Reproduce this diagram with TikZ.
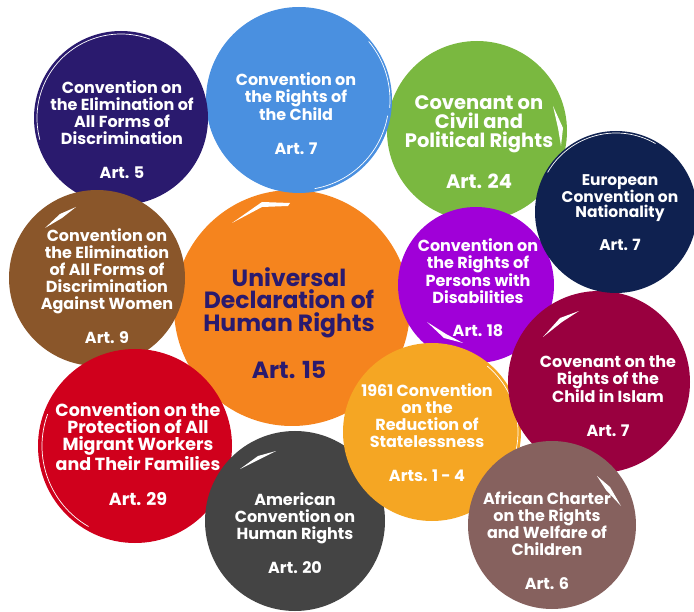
\documentclass[tikz,border=0pt]{standalone}
\usepackage{fontspec}
\setmainfont{Poppins}
\definecolor{cDark}{HTML}{2A1A6E}
\definecolor{cBlue}{HTML}{4A90E0}
\definecolor{cGreen}{HTML}{7AB840}
\definecolor{cNavy}{HTML}{0F2150}
\definecolor{cBrown}{HTML}{8A562A}
\definecolor{cOrange}{HTML}{F5841E}
\definecolor{cPurple}{HTML}{A000D8}
\definecolor{cMaroon}{HTML}{99003F}
\definecolor{cRed}{HTML}{D0001C}
\definecolor{cYellow}{HTML}{F5A623}
\definecolor{cGray}{HTML}{444444}
\definecolor{cMauve}{HTML}{86615E}
\begin{document}
\begin{tikzpicture}[x=1pt,y=-1pt,
  disc/.style={circle, inner sep=0pt, minimum size=#1},
  lbl/.style={align=center, text=white, inner sep=0pt, font=\bfseries\fontsize{16}{17}\selectfont},
  rim/.style={white, line width=0.7pt},
  streak/.style={fill=white}]
\useasboundingbox (0,0) rectangle (694,612);
% discs (drawing order matters)
\node[disc=236pt, fill=cOrange] (orange) at (292,308) {};
\fill[streak] (232,223) -- (262,202) -- (290,203) -- (288,206) -- (262,207) -- cycle;
\node[disc=180pt, fill=cGreen] (green) at (477,131) {};
\fill[streak] (553,106) -- (563,128) -- (561,146) -- (558,128) -- cycle;
\node[disc=156pt, fill=cPurple] (purple) at (476,285) {};
\fill[streak] (427,322) -- (446,334) -- (463,343) -- (444,338) -- cycle;
\node[disc=186pt, fill=cBlue] (blue) at (299,100) {};
\draw[rim] (blue.center) ++(10:90) arc[start angle=10, end angle=80, radius=90];
\draw[rim] (blue.center) ++(-40:91) arc[start angle=-40, end angle=5, radius=91];
\node[disc=174pt, fill=cDark] (dark) at (121,118) {};
\draw[rim] (dark.center) ++(165:84) arc[start angle=165, end angle=290, radius=84];
\node[disc=176pt, fill=cBrown] (brown) at (97,278) {};
\fill[streak] (45,228) -- (60,214) -- (76,207) -- (62,218) -- cycle;
\node[disc=194pt, fill=cRed] (red) at (135,446) {};
\draw[rim] (red.center) ++(120:93) arc[start angle=120, end angle=200, radius=93];
\node[disc=180pt, fill=cGray] (gray) at (295,521) {};
\fill[streak] (240,469) -- (258,456) -- (276,451) -- (258,460) -- cycle;
\node[disc=178pt, fill=cYellow] (yellow) at (432,432) {};
\draw[rim] (yellow.center) ++(-50:86) arc[start angle=-50, end angle=20, radius=86];
\node[disc=182pt, fill=cMaroon] (maroon) at (599,382) {};
\fill[streak] (543,337) -- (560,318) -- (579,311) -- (562,322) -- cycle;
\node[disc=162pt, fill=cNavy] (navy) at (616,212) {};
\draw[rim] (navy.center) ++(-150:79) arc[start angle=-150, end angle=-60, radius=79];
\node[disc=168pt, fill=cMauve] (mauve) at (552,525) {};
\fill[streak] (597,476) -- (610,487) -- (621,506) -- (606,490) -- cycle;
% labels
\node[lbl] (tDark) at (122,130) {Convention on\\the Elimination of\\All Forms of\\Discrimination\\[17pt]Art. 5};
\node[lbl] (tBlue) at (296,114) {Convention on\\the Rights of\\the Child\\[17pt]Art. 7};
\node[lbl, font=\bfseries\fontsize{19.5}{19}\selectfont] (tGreen) at (479,142.5) {Covenant on\\Civil and\\Political Rights\\[20pt]Art. 24};
\node[lbl, font=\bfseries\fontsize{15.5}{15}\selectfont] (tNavy) at (620,212.5) {European\\Convention on\\Nationality\\[16pt]Art. 7};
\node[lbl] (tBrown) at (107,286.5) {Convention on\\the Elimination\\of All Forms of\\Discrimination\\Against Women\\[17pt]Art. 9};
\node[lbl, text=cDark, font=\bfseries\fontsize{23.5}{22.5}\selectfont] (tOrange) at (289,323) {Universal\\Declaration of\\Human Rights\\[22pt]Art. 15};
\node[lbl] (tPurple) at (478,288) {Convention on\\the Rights of\\Persons with\\Disabilities\\[16pt]Art. 18};
\node[lbl] (tMaroon) at (608,396.5) {Covenant on the\\Rights of the\\Child in Islam\\[17pt]Art. 7};
\node[lbl, font=\bfseries\fontsize{17.5}{17}\selectfont] (tRed) at (138,454) {Convention on the\\Protection of All\\Migrant Workers\\and Their Families\\[18pt]Art. 29};
\node[lbl] (tYellow) at (427,432.5) {1961 Convention\\on the\\Reduction of\\Statelessness\\[17pt]Arts. 1 - 4};
\node[lbl] (tGray) at (295,533) {American\\Convention on\\Human Rights\\[17pt]Art. 20};
\node[lbl] (tMauve) at (547,541) {African Charter\\on the Rights\\and Welfare of\\Children\\[17pt]Art. 6};
\end{tikzpicture}
\end{document}
